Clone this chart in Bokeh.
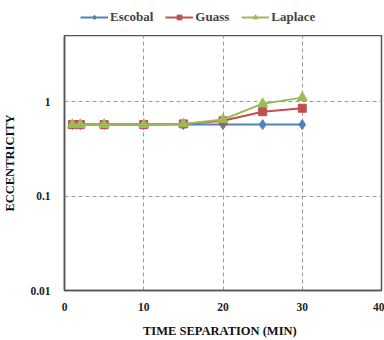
from bokeh.plotting import figure
from bokeh.layouts import column
from bokeh.models import Legend, LegendItem, FixedTicker, CustomJSTickFormatter, Range1d
from bokeh.embed import file_html
from bokeh.resources import INLINE

time_min = [1, 2, 5, 10, 15, 20, 25, 30]
escobal = [0.57, 0.57, 0.57, 0.57, 0.57, 0.57, 0.57, 0.57]
guass = [0.57, 0.57, 0.57, 0.57, 0.58, 0.625, 0.78, 0.85]
laplace = [0.57, 0.57, 0.57, 0.57, 0.58, 0.645, 0.95, 1.10]
series_names = ["Escobal", "Guass", "Laplace"]
x_ticks = [0, 10, 20, 30, 40]
y_ticks = [0.01, 0.1, 1]

FONT = "Liberation Serif"
COLORS = ["#4F81BD", "#C0504D", "#9BBB59"]
MARKERS = ["diamond", "square", "triangle"]
SIZES = [10, 8, 10]
SERIES = [escobal, guass, laplace]

p = figure(width=384, height=305, output_backend="svg", toolbar_location=None,
           y_axis_type="log", x_range=Range1d(0, 40), y_range=Range1d(0.01, 5),
           min_border_left=61, min_border_right=3, min_border_top=0, min_border_bottom=50)
p.background_fill_color = "white"
p.border_fill_color = "white"
p.outline_line_color = "#555555"
p.outline_line_width = 1.5

for ys, c, mk, sz in zip(SERIES, COLORS, MARKERS, SIZES):
    p.line(time_min, ys, line_color=c, line_width=2)
    p.scatter(time_min, ys, marker=mk, size=sz, fill_color=c, line_color=c)

p.xaxis.ticker = FixedTicker(ticks=x_ticks)
p.yaxis.ticker = FixedTicker(ticks=y_ticks)
p.yaxis.formatter = CustomJSTickFormatter(code="return tick.toString();")

for ax in (p.xaxis[0], p.yaxis[0]):
    ax.major_tick_line_color = None
    ax.minor_tick_line_color = None
    ax.axis_line_color = "#555555"
    ax.axis_line_width = 1.5
    ax.major_label_text_font = FONT
    ax.major_label_text_font_style = "bold"
    ax.major_label_text_font_size = "11.5px"
    ax.major_label_text_color = "#222222"
    ax.axis_label_text_font = FONT
    ax.axis_label_text_font_style = "bold"
    ax.axis_label_text_font_size = "12.5px"
    ax.axis_label_text_color = "#111111"

p.xaxis.axis_label = "TIME  SEPARATION  (MIN)"
p.yaxis.axis_label = "ECCENTRICITY"
p.xaxis.major_label_standoff = 6
p.xaxis.axis_label_standoff = 10
p.yaxis.major_label_standoff = 8
p.yaxis.axis_label_standoff = 10

p.xgrid.grid_line_color = "#999999"
p.xgrid.grid_line_dash = "4 3"
p.ygrid.grid_line_color = "#999999"
p.ygrid.grid_line_dash = "4 3"

# Legend strip above the plot (series drawn out of view; only the legend shows)
lg = figure(width=384, height=35, output_backend="svg", toolbar_location=None,
            x_range=Range1d(-20, -10), y_range=Range1d(0, 1),
            min_border=0)
lg.axis.visible = False
lg.grid.visible = False
lg.outline_line_color = None
items = []
for name, ys, c, mk, sz in zip(series_names, SERIES, COLORS, MARKERS, SIZES):
    rl = lg.line(time_min, ys, line_color=c, line_width=2)
    rm = lg.scatter(time_min, ys, marker=mk, size=sz - 2, fill_color=c, line_color=c)
    items.append(LegendItem(label=name, renderers=[rl, rm]))
legend = Legend(items=items, orientation="horizontal", location=(16, 10),
                label_text_font=FONT, label_text_font_style="bold", label_text_font_size="13px",
                border_line_color=None, background_fill_alpha=0, glyph_width=28, glyph_height=12,
                spacing=12, padding=0, margin=0, label_standoff=2)
lg.add_layout(legend)

layout = column(lg, p, spacing=0)
open("out.html", "w").write(file_html(layout, INLINE))
